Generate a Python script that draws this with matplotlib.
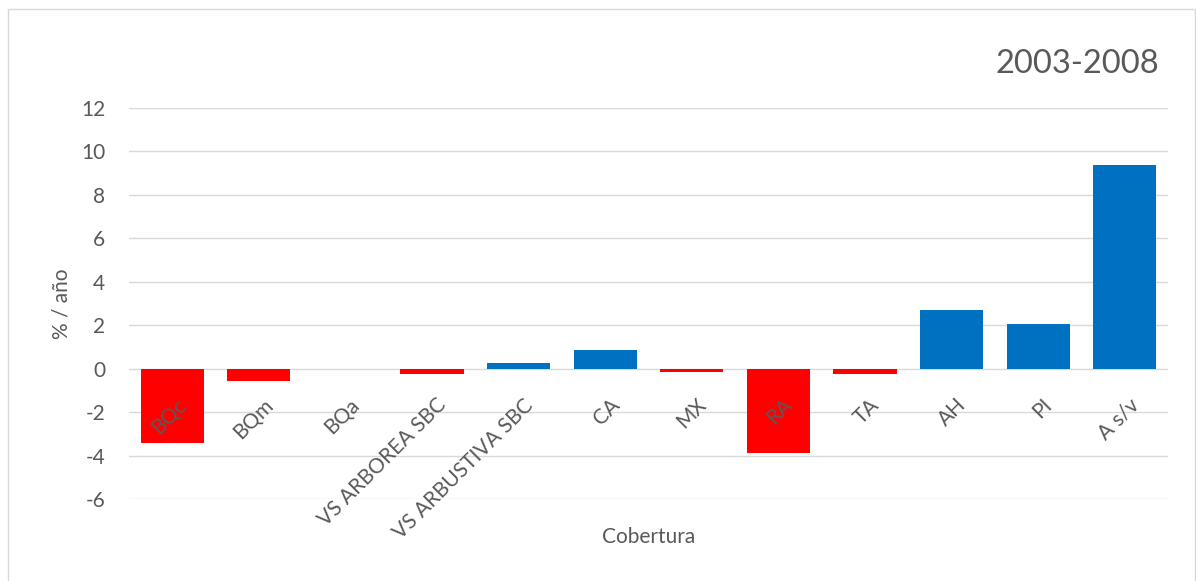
import numpy as np
import matplotlib.pyplot as plt
from matplotlib.patches import Rectangle

categories = ['BQc', 'BQm', 'BQa', 'VS ARBOREA SBC', 'VS ARBUSTIVA SBC', 'CA',
              'MX', 'RA', 'TA', 'AH', 'PI', 'A s/v']
values = [-3.40, -0.55, 0.0, -0.24, 0.28, 0.87, -0.15, -3.86, -0.24, 2.71, 2.07, 9.38]
y_ticks = [-6, -4, -2, 0, 2, 4, 6, 8, 10, 12]
title = '2003-2008'

plt.rcParams['font.family'] = ['Lato', 'DejaVu Sans']
grey = '#595959'

fig = plt.figure(figsize=(11.96, 5.81), dpi=100)
ax = fig.add_axes([129 / 1196, 1 - 499 / 581, 1039 / 1196, 391 / 581])

# figure frame
fig.patches.append(Rectangle((8 / 1196, -0.05), 1187 / 1196, 1 - 9 / 581 + 0.05,
                             transform=fig.transFigure, fill=False,
                             edgecolor='#d9d9d9', linewidth=1.0))

x = np.arange(len(categories))
colors = ['#ff0000' if v < 0 else '#0070c0' for v in values]
ax.bar(x, values, width=0.73, color=colors, zorder=2)

ax.set_xlim(-0.5, len(categories) - 0.5)
ax.set_ylim(-6, 12)
ax.set_yticks(y_ticks)
ax.set_yticklabels([str(t) for t in y_ticks], fontsize=15, color=grey)
ax.tick_params(axis='y', length=0, pad=17)
ax.set_xticks(x)
ax.set_xticklabels([])
ax.tick_params(axis='x', length=0)
ax.grid(axis='y', color='#d9d9d9', linewidth=1.0, zorder=0)
for s in ax.spines.values():
    s.set_visible(False)

# category labels sit at the zero line
for i, lab in enumerate(categories):
    ax.annotate(lab, xy=(i, 0), xytext=(8, -24), textcoords='offset points',
                rotation=45, ha='right', va='center', rotation_mode='anchor',
                fontsize=15, color=grey, zorder=3)

ax.set_xlabel('Cobertura', fontsize=15, color=grey)
ax.xaxis.set_label_coords(0.5, -38 / 391)
ax.xaxis.label.set_va('center')
ax.set_ylabel('% / año', fontsize=15, color=grey)
ax.yaxis.set_label_coords(-67 / 1039, 0.5)
ax.yaxis.label.set_va('center')

fig.text(1077 / 1196, 1 - 64 / 581, title, fontsize=23.5, color=grey,
         ha='center', va='center')

fig.savefig('out.png', dpi=100)
